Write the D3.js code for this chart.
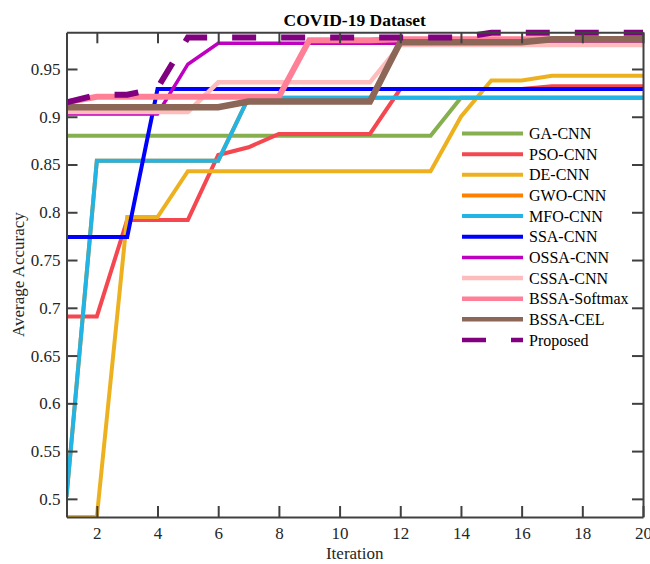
<!DOCTYPE html>
<html>
<head>
<meta charset="utf-8">
<script src="https://cdn.jsdelivr.net/npm/d3@7"></script>
<style>
  html, body { margin: 0; padding: 0; background: #fff; }
  svg { display: block; }
  text { font-family: "Liberation Serif", "Times New Roman", serif; fill: #262626; }
</style>
</head>
<body>
<div id="chart"></div>
<script>
// ---- data ----
const iterations = [1,2,3,4,5,6,7,8,9,10,11,12,13,14,15,16,17,18,19,20];
const seriesNames = ["GA-CNN","PSO-CNN","DE-CNN","GWO-CNN","MFO-CNN","SSA-CNN","OSSA-CNN","CSSA-CNN","BSSA-Softmax","BSSA-CEL","Proposed"];
const gaCNN   = [0.880,0.880,0.880,0.880,0.880,0.880,0.880,0.880,0.880,0.880,0.880,0.880,0.880,0.920,0.920,0.920,0.920,0.920,0.920,0.920];
const psoCNN  = [0.691,0.691,0.792,0.792,0.792,0.860,0.868,0.882,0.882,0.882,0.882,0.929,0.929,0.929,0.929,0.929,0.932,0.932,0.932,0.932];
const deCNN   = [0.481,0.481,0.795,0.795,0.843,0.843,0.843,0.843,0.843,0.843,0.843,0.843,0.843,0.900,0.938,0.938,0.943,0.943,0.943,0.943];
const gwoCNN  = [0.502,0.854,0.854,0.854,0.854,0.854,0.920,0.920,0.920,0.920,0.920,0.920,0.920,0.920,0.920,0.920,0.920,0.920,0.920,0.920];
const mfoCNN  = [0.502,0.854,0.854,0.854,0.854,0.854,0.920,0.920,0.920,0.920,0.920,0.920,0.920,0.920,0.920,0.920,0.920,0.920,0.920,0.920];
const ssaCNN  = [0.774,0.774,0.774,0.929,0.929,0.929,0.929,0.929,0.929,0.929,0.929,0.929,0.929,0.929,0.929,0.929,0.929,0.929,0.929,0.929];
const ossaCNN = [0.903,0.903,0.903,0.903,0.955,0.977,0.977,0.977,0.977,0.977,0.977,0.977,0.977,0.977,0.977,0.977,0.977,0.977,0.977,0.977];
const cssaCNN = [0.905,0.905,0.905,0.905,0.905,0.936,0.936,0.936,0.936,0.936,0.936,0.975,0.975,0.975,0.975,0.975,0.975,0.975,0.975,0.975];
const bssaSoftmax = [0.915,0.921,0.921,0.921,0.921,0.921,0.921,0.921,0.980,0.980,0.980,0.981,0.981,0.981,0.981,0.981,0.981,0.981,0.981,0.981];
const bssaCEL = [0.910,0.910,0.910,0.910,0.910,0.910,0.916,0.916,0.916,0.916,0.916,0.978,0.978,0.978,0.978,0.978,0.981,0.981,0.981,0.981];
const proposed = [0.915,0.923,0.923,0.930,0.983,0.983,0.983,0.983,0.983,0.983,0.983,0.983,0.983,0.983,0.988,0.988,0.988,0.988,0.988,0.988];
const xTicks = [2,4,6,8,10,12,14,16,18,20];
const yTicks = [0.5,0.55,0.6,0.65,0.7,0.75,0.8,0.85,0.9,0.95];
const yTickLabels = ["0.5","0.55","0.6","0.65","0.7","0.75","0.8","0.85","0.9","0.95"];
const yDomain = [0.481, 0.9884];

// ---- styles ----
const seriesValues = [gaCNN, psoCNN, deCNN, gwoCNN, mfoCNN, ssaCNN, ossaCNN, cssaCNN, bssaSoftmax, bssaCEL, proposed];
const colors = ["#86b050","#f5474f","#edb120","#ff8000","#22b4e2","#0000ff","#c000c0","#ffbcbc","#ff8096","#8c6657","#800080"];
const widths = [4,4,4,4,4,4,3.5,4.5,6,6.5,6];
const dashes = [null,null,null,null,null,null,null,null,null,null,"24,25"];

const W = 650, H = 564;
const mg = {left: 66.5, right: 7, top: 32.3, bottom: 47};
const xS = d3.scaleLinear().domain([1,20]).range([mg.left, W - mg.right]);
const yS = d3.scaleLinear().domain(yDomain).range([H - mg.bottom, mg.top]);

const svg = d3.select("#chart").append("svg").attr("width", W).attr("height", H);

svg.append("defs").append("clipPath").attr("id","clip")
  .append("rect").attr("x", mg.left).attr("y", mg.top - 4)
  .attr("width", W - mg.right - mg.left).attr("height", H - mg.bottom - mg.top + 4);

const lineGen = d3.line().x((d,i) => xS(iterations[i])).y(d => yS(d));

const lg = svg.append("g").attr("clip-path","url(#clip)");
seriesValues.forEach((vals, k) => {
  lg.append("path").datum(vals)
    .attr("d", lineGen)
    .attr("fill","none")
    .attr("stroke", colors[k])
    .attr("stroke-width", widths[k])
    .attr("stroke-linejoin","miter")
    .attr("stroke-dasharray", dashes[k]);
});

// ---- axes (box with inward ticks) ----
const axisColor = "#404040";
const tickLen = 11;
const gBottom = svg.append("g").attr("transform", `translate(0,${H - mg.bottom})`)
  .call(d3.axisBottom(xS).tickValues(xTicks).tickSizeInner(-tickLen).tickSizeOuter(0).tickPadding(10).tickFormat(d3.format("d")));
const gTop = svg.append("g").attr("transform", `translate(0,${mg.top})`)
  .call(d3.axisTop(xS).tickValues(xTicks).tickSizeInner(-tickLen).tickSizeOuter(0).tickFormat(""));
const gLeft = svg.append("g").attr("transform", `translate(${mg.left},0)`)
  .call(d3.axisLeft(yS).tickValues(yTicks).tickSizeInner(-tickLen).tickSizeOuter(0).tickPadding(6)
    .tickFormat((d,i) => yTickLabels[i]));
const gRight = svg.append("g").attr("transform", `translate(${W - mg.right},0)`)
  .call(d3.axisRight(yS).tickValues(yTicks).tickSizeInner(-tickLen).tickSizeOuter(0).tickFormat(""));

[gBottom, gTop, gLeft, gRight].forEach(g => {
  g.select(".domain").attr("stroke", axisColor).attr("stroke-width", 2);
  g.selectAll(".tick line").attr("stroke", axisColor).attr("stroke-width", 2);
  g.selectAll(".tick text").attr("font-family", "Liberation Serif, serif").attr("font-size", 17).attr("fill", "#262626");
});
gBottom.selectAll(".tick text").attr("dy", "0.71em");

// ---- labels ----
svg.append("text").attr("x", (mg.left + W - mg.right) / 2).attr("y", 26)
  .attr("text-anchor","middle").attr("font-size", 17.5).attr("font-weight","bold").style("fill","#000")
  .text("COVID-19 Dataset");
svg.append("text").attr("x", (mg.left + W - mg.right) / 2).attr("y", 559)
  .attr("text-anchor","middle").attr("font-size", 17).text("Iteration");
svg.append("text").attr("transform", `translate(24,${(mg.top + H - mg.bottom) / 2}) rotate(-90)`)
  .attr("text-anchor","middle").attr("font-size", 17).text("Average Accuracy");

// ---- legend ----
const legX1 = 462, legX2 = 523, legTextX = 529, legY0 = 133.5, legDY = 20.65;
const leg = svg.append("g");
seriesNames.forEach((name, k) => {
  const yy = legY0 + k * legDY;
  leg.append("line").attr("x1", legX1).attr("x2", legX2).attr("y1", yy).attr("y2", yy)
    .attr("stroke", colors[k]).attr("stroke-width", Math.min(widths[k], 4.5))
    .attr("stroke-dasharray", dashes[k]);
  leg.append("text").attr("x", legTextX).attr("y", yy).attr("dy", "0.35em")
    .attr("font-size", 16).style("fill", "#000").text(name);
});
</script>
</body>
</html>
